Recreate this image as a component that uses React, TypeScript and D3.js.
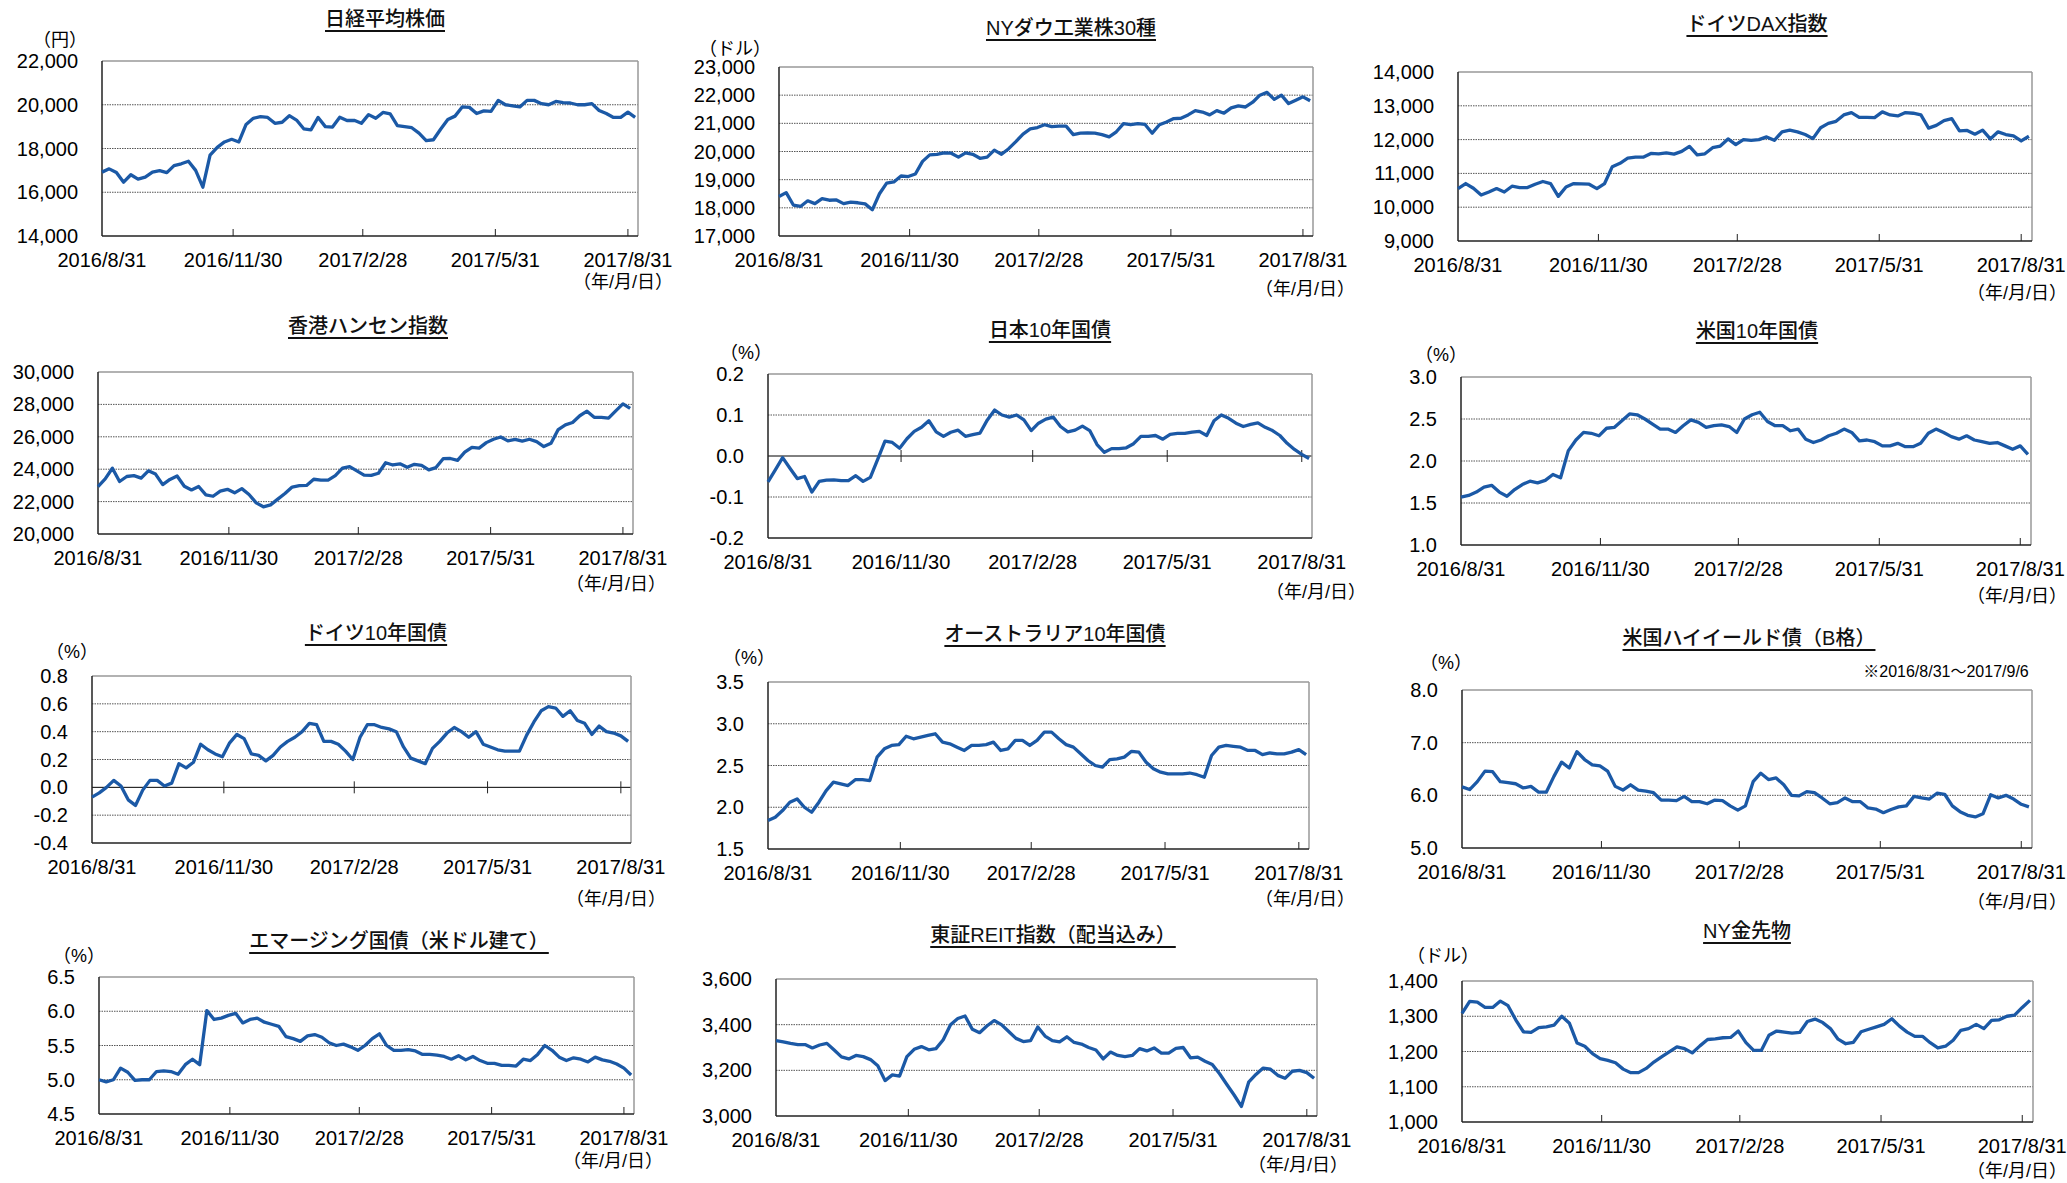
import React from "react";
import * as d3 from "d3";

// period and sampling (one reading every 5 calendar days from 2016/8/31)
const START = new Date(2016, 7, 31);
const END = new Date(2017, 8, 7);
const STEP_DAYS = 5;

const dateTicks = [new Date(2016, 7, 31), new Date(2016, 10, 30), new Date(2017, 1, 28), new Date(2017, 4, 31), new Date(2017, 7, 31)];
const dateTickLabels = ["2016/8/31", "2016/11/30", "2017/2/28", "2017/5/31", "2017/8/31"];

const nikkei = [16920, 17070, 16900, 16460, 16800, 16600, 16690, 16920, 16990, 16900,
  17220, 17300, 17420, 17000, 16230, 17700, 18050, 18300, 18420, 18300,
  19100, 19380, 19460, 19420, 19150, 19200, 19500, 19300, 18900, 18850,
  19420, 19000, 18980, 19430, 19280, 19290, 19150, 19550, 19380, 19650,
  19580, 19050, 19000, 18950, 18700, 18360, 18400, 18880, 19330, 19480,
  19900, 19880, 19600, 19720, 19700, 20200, 20000, 19950, 19900, 20200,
  20200, 20050, 20000, 20150, 20100, 20080, 20000, 20000, 20050, 19740,
  19600, 19420, 19420, 19660, 19420];
const dow = [18400, 18540, 18100, 18050, 18250, 18150, 18330, 18270, 18280, 18150,
  18200, 18180, 18140, 17930, 18500, 18880, 18920, 19130, 19110, 19200,
  19650, 19880, 19900, 19950, 19940, 19800, 19950, 19900, 19760, 19800,
  20050, 19900, 20100, 20350, 20620, 20800, 20850, 20950, 20880, 20900,
  20900, 20600, 20650, 20660, 20650, 20600, 20520, 20700, 20990, 20950,
  20990, 20960, 20650, 20950, 21050, 21170, 21180, 21300, 21450, 21400,
  21300, 21450, 21360, 21550, 21620, 21580, 21750, 22000, 22100, 21850,
  22000, 21700, 21820, 21940, 21800];
const dax = [10550, 10700, 10560, 10360, 10450, 10550, 10450, 10620, 10580, 10580,
  10680, 10760, 10700, 10320, 10600, 10700, 10690, 10680, 10550, 10700,
  11200, 11300, 11450, 11480, 11480, 11590, 11580, 11610, 11570, 11650,
  11800, 11550, 11580, 11760, 11810, 12020, 11850, 12000, 11980, 12000,
  12080, 11980, 12230, 12280, 12230, 12150, 12030, 12350, 12480, 12540,
  12730, 12800, 12660, 12660, 12650, 12820, 12730, 12700, 12800, 12780,
  12730, 12340, 12420, 12560, 12620, 12260, 12270, 12160, 12280, 12020,
  12230, 12150, 12110, 11960, 12100];
const hangSeng = [22930, 23400, 24060, 23240, 23550, 23600, 23450, 23900, 23700, 23050,
  23370, 23580, 22950, 22720, 22930, 22420, 22330, 22650, 22760, 22540,
  22800, 22440, 21920, 21680, 21800, 22150, 22500, 22900, 22980, 23000,
  23380, 23330, 23330, 23600, 24060, 24160, 23900, 23630, 23620, 23750,
  24400, 24260, 24330, 24120, 24300, 24240, 23960, 24100, 24650, 24660,
  24550, 25050, 25350, 25300, 25640, 25850, 25990, 25750, 25840, 25730,
  25850, 25700, 25400, 25600, 26450, 26740, 26880, 27300, 27580, 27200,
  27200, 27150, 27600, 28030, 27750];
const jgb10 = [-0.063, -0.034, -0.004, -0.030, -0.055, -0.050, -0.088, -0.062, -0.059, -0.058,
  -0.060, -0.060, -0.048, -0.062, -0.052, -0.008, 0.036, 0.033, 0.019, 0.042,
  0.060, 0.070, 0.086, 0.059, 0.048, 0.058, 0.063, 0.048, 0.052, 0.056,
  0.088, 0.112, 0.100, 0.095, 0.100, 0.088, 0.062, 0.080, 0.090, 0.095,
  0.072, 0.059, 0.063, 0.073, 0.062, 0.028, 0.009, 0.018, 0.018, 0.020,
  0.030, 0.048, 0.048, 0.050, 0.041, 0.053, 0.055, 0.055, 0.058, 0.060,
  0.050, 0.086, 0.100, 0.092, 0.080, 0.072, 0.077, 0.081, 0.070, 0.062,
  0.050, 0.031, 0.016, 0.004, -0.006];
const ust10 = [1.57, 1.59, 1.63, 1.69, 1.71, 1.63, 1.58, 1.66, 1.72, 1.76,
  1.74, 1.77, 1.84, 1.80, 2.12, 2.25, 2.34, 2.33, 2.30, 2.39,
  2.40, 2.48, 2.56, 2.55, 2.50, 2.44, 2.38, 2.38, 2.34, 2.42,
  2.49, 2.46, 2.40, 2.42, 2.43, 2.41, 2.34, 2.50, 2.55, 2.58,
  2.47, 2.42, 2.42, 2.36, 2.38, 2.26, 2.22, 2.25, 2.30, 2.33,
  2.38, 2.34, 2.24, 2.25, 2.23, 2.18, 2.18, 2.21, 2.17, 2.17,
  2.21, 2.33, 2.38, 2.34, 2.29, 2.26, 2.30, 2.25, 2.23, 2.21,
  2.22, 2.18, 2.14, 2.18, 2.08];
const bund10 = [-0.07, -0.04, 0.00, 0.05, 0.01, -0.09, -0.13, -0.02, 0.05, 0.05,
  0.01, 0.03, 0.17, 0.14, 0.18, 0.31, 0.27, 0.24, 0.22, 0.32,
  0.38, 0.35, 0.24, 0.23, 0.19, 0.23, 0.29, 0.33, 0.36, 0.40,
  0.46, 0.45, 0.33, 0.33, 0.31, 0.26, 0.20, 0.36, 0.45, 0.45,
  0.43, 0.42, 0.40, 0.29, 0.21, 0.19, 0.17, 0.28, 0.33, 0.39,
  0.43, 0.40, 0.36, 0.40, 0.31, 0.29, 0.27, 0.26, 0.26, 0.26,
  0.375, 0.47, 0.55, 0.58, 0.57, 0.51, 0.55, 0.48, 0.46, 0.38,
  0.44, 0.40, 0.39, 0.37, 0.33];
const aus10 = [1.84, 1.88, 1.96, 2.06, 2.10, 2.00, 1.94, 2.06, 2.20, 2.30,
  2.28, 2.26, 2.33, 2.33, 2.32, 2.60, 2.70, 2.74, 2.75, 2.85,
  2.82, 2.84, 2.86, 2.88, 2.78, 2.76, 2.72, 2.68, 2.74, 2.74,
  2.75, 2.78, 2.68, 2.70, 2.80, 2.80, 2.74, 2.80, 2.90, 2.90,
  2.82, 2.75, 2.72, 2.64, 2.56, 2.50, 2.48, 2.57, 2.58, 2.60,
  2.67, 2.66, 2.54, 2.46, 2.42, 2.40, 2.40, 2.40, 2.41, 2.39,
  2.36, 2.62, 2.72, 2.74, 2.73, 2.72, 2.68, 2.68, 2.63, 2.65,
  2.64, 2.64, 2.66, 2.69, 2.63];
const usHighYield = [6.16, 6.11, 6.26, 6.46, 6.45, 6.26, 6.24, 6.22, 6.14, 6.17,
  6.06, 6.06, 6.36, 6.63, 6.52, 6.83, 6.68, 6.58, 6.56, 6.46,
  6.17, 6.10, 6.20, 6.10, 6.08, 6.05, 5.91, 5.91, 5.90, 5.98,
  5.88, 5.88, 5.84, 5.91, 5.90, 5.80, 5.72, 5.80, 6.26, 6.42,
  6.30, 6.33, 6.20, 6.00, 5.99, 6.07, 6.05, 5.95, 5.84, 5.86,
  5.95, 5.88, 5.88, 5.76, 5.74, 5.67, 5.73, 5.78, 5.80, 5.98,
  5.95, 5.93, 6.04, 6.02, 5.80, 5.69, 5.62, 5.59, 5.65, 6.01,
  5.95, 6.00, 5.93, 5.83, 5.78];
const emBond = [5.00, 4.97, 5.00, 5.17, 5.11, 4.99, 5.00, 5.00, 5.12, 5.13,
  5.12, 5.08, 5.22, 5.30, 5.22, 6.01, 5.88, 5.90, 5.94, 5.97,
  5.83, 5.88, 5.90, 5.84, 5.81, 5.78, 5.63, 5.60, 5.56, 5.64,
  5.66, 5.62, 5.54, 5.50, 5.52, 5.48, 5.43, 5.50, 5.60, 5.67,
  5.50, 5.43, 5.43, 5.44, 5.42, 5.37, 5.37, 5.36, 5.34, 5.30,
  5.35, 5.29, 5.34, 5.28, 5.24, 5.24, 5.21, 5.21, 5.20, 5.30,
  5.28, 5.37, 5.50, 5.43, 5.33, 5.28, 5.32, 5.30, 5.26, 5.33,
  5.29, 5.27, 5.23, 5.17, 5.07];
const reit = [3330, 3325, 3318, 3313, 3313, 3298, 3311, 3318, 3289, 3259,
  3250, 3265, 3260, 3247, 3220, 3155, 3180, 3175, 3260, 3292,
  3304, 3290, 3295, 3334, 3400, 3427, 3438, 3380, 3365, 3394,
  3418, 3400, 3370, 3340, 3326, 3330, 3390, 3350, 3330, 3325,
  3347, 3322, 3315, 3300, 3289, 3250, 3280, 3265, 3260, 3265,
  3295, 3285, 3298, 3275, 3275, 3296, 3300, 3255, 3258, 3240,
  3226, 3185, 3138, 3092, 3042, 3148, 3182, 3210, 3205, 3178,
  3165, 3196, 3200, 3190, 3165];
const gold = [1308, 1342, 1340, 1325, 1325, 1343, 1330, 1290, 1256, 1254,
  1268, 1270, 1275, 1300, 1280, 1224, 1215, 1194, 1180, 1175,
  1168, 1150, 1140, 1140, 1152, 1170, 1185, 1199, 1213, 1208,
  1196, 1216, 1234, 1236, 1239, 1240, 1258, 1225, 1203, 1203,
  1246, 1258, 1255, 1252, 1254, 1285, 1292, 1282, 1265, 1235,
  1222, 1226, 1256, 1263, 1270, 1277, 1293, 1272, 1255, 1243,
  1243, 1225, 1210, 1215, 1232, 1260, 1265, 1277, 1265, 1288,
  1290, 1300, 1303, 1325, 1345];

const titles = ["日経平均株価", "NYダウ工業株30種", "ドイツDAX指数", "香港ハンセン指数", "日本10年国債", "米国10年国債",
  "ドイツ10年国債", "オーストラリア10年国債", "米国ハイイールド債（B格）", "エマージング国債（米ドル建て）", "東証REIT指数（配当込み）", "NY金先物"];
const units = ["（円）", "（ドル）", "", "", "（%）", "（%）", "（%）", "（%）", "（%）", "（%）", "", "（ドル）"];
const series = [nikkei, dow, dax, hangSeng, jgb10, ust10, bund10, aus10, usHighYield, emBond, reit, gold];
const yTicks = [
  [14000, 16000, 18000, 20000, 22000],
  [17000, 18000, 19000, 20000, 21000, 22000, 23000],
  [9000, 10000, 11000, 12000, 13000, 14000],
  [20000, 22000, 24000, 26000, 28000, 30000],
  [-0.2, -0.1, 0, 0.1, 0.2],
  [1.0, 1.5, 2.0, 2.5, 3.0],
  [-0.4, -0.2, 0, 0.2, 0.4, 0.6, 0.8],
  [1.5, 2.0, 2.5, 3.0, 3.5],
  [5.0, 6.0, 7.0, 8.0],
  [4.5, 5.0, 5.5, 6.0, 6.5],
  [3000, 3200, 3400, 3600],
  [1000, 1100, 1200, 1300, 1400],
];
const hyNote = "※2016/8/31～2017/9/6";

// layout per panel: plot box, title centre, unit centre, (年/月/日) centre
const layout = [
  { l: 102, r: 638, t: 61, b: 236, tx: 385, ty: 19, ux: 60, uy: 40, dx: 623, dy: 282 },
  { l: 779, r: 1313, t: 67, b: 236, tx: 1071, ty: 28, ux: 735, uy: 49, dx: 1305, dy: 289 },
  { l: 1458, r: 2032, t: 72, b: 241, tx: 1757, ty: 24, ux: 0, uy: 0, dx: 2017, dy: 293 },
  { l: 98, r: 633, t: 372, b: 534, tx: 368, ty: 326, ux: 0, uy: 0, dx: 616, dy: 584 },
  { l: 768, r: 1312, t: 374, b: 538, tx: 1050, ty: 330, ux: 746, uy: 353, dx: 1316, dy: 592 },
  { l: 1461, r: 2031, t: 377, b: 545, tx: 1757, ty: 331, ux: 1441, uy: 355, dx: 2017, dy: 596 },
  { l: 92, r: 631, t: 676, b: 843, tx: 376, ty: 633, ux: 72, uy: 652, dx: 616, dy: 899 },
  { l: 768, r: 1309, t: 682, b: 849, tx: 1055, ty: 634, ux: 749, uy: 658, dx: 1305, dy: 899 },
  { l: 1462, r: 2032, t: 690, b: 848, tx: 1749, ty: 638, ux: 1446, uy: 663, dx: 2017, dy: 902 },
  { l: 99, r: 634, t: 977, b: 1114, tx: 399, ty: 941, ux: 79, uy: 956, dx: 613, dy: 1161 },
  { l: 776, r: 1317, t: 979, b: 1116, tx: 1053, ty: 935, ux: 0, uy: 0, dx: 1298, dy: 1165 },
  { l: 1462, r: 2033, t: 981, b: 1122, tx: 1747, ty: 931, ux: 1443, uy: 956, dx: 2017, dy: 1171 },
];

const FONT = "'Liberation Sans', Arial, 'Noto Sans CJK JP', sans-serif";
const LINE_COLOR = "#1b59a6";

const fmtValue = (v: number, big: boolean) => (big ? d3.format(",")(v) : v.toFixed(1));

function Panel({ idx }: { idx: number }) {
  const lay = layout[idx];
  const ticks = yTicks[idx];
  const values = series[idx];
  const big = ticks[ticks.length - 1] >= 100;
  const hasZero = ticks[0] < 0;

  const x = d3.scaleTime().domain([START, END]).range([lay.l, lay.r]);
  const y = d3.scaleLinear().domain([ticks[0], ticks[ticks.length - 1]]).range([lay.b, lay.t]);
  const data = values.map((v, i) => ({ date: d3.timeDay.offset(START, i * STEP_DAYS), v }));
  const line = d3.line<{ date: Date; v: number }>()
    .x(d => x(d.date))
    .y(d => y(d.v));

  const tickBase = hasZero ? y(0) : lay.b;

  return (
    <g>
      <text x={lay.tx} y={lay.ty} textAnchor="middle" dominantBaseline="central" fontSize={20}
        fontWeight={500} textDecoration="underline" fill="#111">{titles[idx]}</text>
      {units[idx] && (
        <text x={lay.ux} y={lay.uy} textAnchor="middle" dominantBaseline="central" fontSize={18}>{units[idx]}</text>
      )}
      {idx === 8 && (
        <text x={1946} y={671} textAnchor="middle" dominantBaseline="central" fontSize={16}>{hyNote}</text>
      )}

      {/* grid */}
      {ticks.slice(1, -1).map(t => (
        <line key={t} x1={lay.l} x2={lay.r} y1={y(t)} y2={y(t)}
          stroke={hasZero && t === 0 ? "#000" : "#555"} strokeWidth={1}
          strokeDasharray={hasZero && t === 0 ? undefined : "1.5,1"} />
      ))}

      {/* frame */}
      <line x1={lay.l} x2={lay.r} y1={lay.t} y2={lay.t} stroke="#999" strokeWidth={1.5} />
      <line x1={lay.r} x2={lay.r} y1={lay.t} y2={lay.b} stroke="#999" strokeWidth={1.5} />
      <line x1={lay.l} x2={lay.l} y1={lay.t} y2={lay.b} stroke="#222" strokeWidth={1.5} />
      <line x1={lay.l} x2={lay.r} y1={lay.b} y2={lay.b} stroke="#222" strokeWidth={1.5} />

      {/* x ticks */}
      {dateTicks.slice(1).map((d, i) => (
        <line key={i} x1={x(d)} x2={x(d)} y1={hasZero ? tickBase - 6 : tickBase - 7} y2={hasZero ? tickBase + 6 : tickBase}
          stroke="#222" strokeWidth={1} />
      ))}

      {/* y labels */}
      {ticks.map(t => (
        <text key={t} x={lay.l - 24} y={y(t)} textAnchor="end" dominantBaseline="central" fontSize={20}>
          {fmtValue(t, big)}
        </text>
      ))}

      {/* x labels */}
      {dateTicks.map((d, i) => (
        <text key={i} x={x(d)} y={lay.b + 24} textAnchor="middle" dominantBaseline="central" fontSize={20}>
          {dateTickLabels[i]}
        </text>
      ))}
      <text x={lay.dx} y={lay.dy} textAnchor="middle" dominantBaseline="central" fontSize={18}>（年/月/日）</text>

      <path d={line(data) || ""} fill="none" stroke={LINE_COLOR} strokeWidth={3.3} strokeLinejoin="round" />
    </g>
  );
}

export default function App() {
  return (
    <svg width={2067} height={1183} style={{ position: "absolute", left: 0, top: 0, background: "#fff" }}
      fontFamily={FONT} fill="#000">
      <rect width={2067} height={1183} fill="#fff" />
      {layout.map((_, i) => <Panel key={i} idx={i} />)}
    </svg>
  );
}
